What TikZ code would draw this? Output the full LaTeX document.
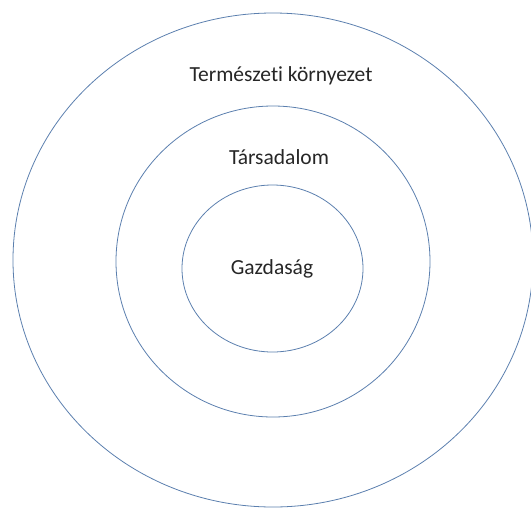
\documentclass[tikz,border=0pt]{standalone}
\usepackage{fontspec}
\setmainfont[Ligatures=NoCommon]{Carlito}
\usetikzlibrary{shapes.geometric}

\begin{document}
\begin{tikzpicture}[x=1pt, y=-1pt,
    ring/.style={ellipse, draw=ringblue, line width=0.8pt, inner sep=0pt},
    label/.style={font=\fontsize{21.5}{25}\selectfont, text=black!85, anchor=base}]
    \definecolor{ringblue}{HTML}{5B7FAE}
    \useasboundingbox (0,0) rectangle (531,507);

    % Nested rings
    \node[ring, minimum width=520pt, minimum height=494pt] (kornyezet) at (273,260) {};
    \node[ring, minimum width=314pt, minimum height=311pt] (tarsadalom) at (273,261.5) {};
    \node[ring, minimum width=181pt, minimum height=167pt] (gazdasag) at (272.5,268.5) {};

    % Ring labels
    \node[label] (kornyezetlabel) at (281,81) {Természeti környezet};
    \node[label] (tarsadalomlabel) at (279,164) {Társadalom};
    \node[label] (gazdasaglabel) at (272,274) {Gazdaság};
\end{tikzpicture}
\end{document}
